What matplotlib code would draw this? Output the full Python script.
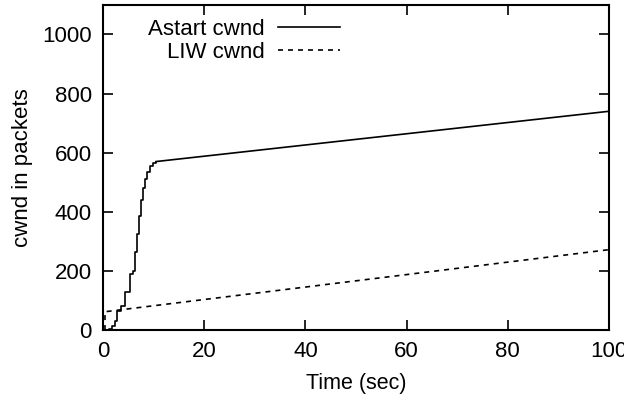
import matplotlib
matplotlib.use("Agg")
import matplotlib.pyplot as plt
from matplotlib import font_manager

names = {f.name for f in font_manager.fontManager.ttflist}
fam = "Liberation Sans Narrow" if "Liberation Sans Narrow" in names else "Liberation Sans"
plt.rcParams['font.family'] = [fam, 'DejaVu Sans']

# Astart cwnd: slow-start ramp (step) then linear growth
astart_ramp_t = [0.5, 1.2, 1.8, 2.3, 2.8, 3.5, 4.3, 5.3, 5.9, 6.3, 6.7, 7.2, 7.6, 8.0, 8.4, 8.8, 9.3, 9.8, 10.5]
astart_ramp_v = [0, 5, 15, 30, 65, 80, 130, 190, 200, 265, 325, 385, 440, 480, 510, 535, 555, 565, 570]
astart_lin_t = [10.5, 100]
astart_lin_v = [570, 740]

# LIW cwnd
liw_t = [0.4, 0.4, 100]
liw_v = [0, 62, 272]

xticks = [0, 20, 40, 60, 80, 100]
yticks = [0, 200, 400, 600, 800, 1000]

fig = plt.figure(figsize=(6.24, 4.04), dpi=100)
ax = fig.add_axes([0.165, 0.183, 0.811, 0.805])

ax.plot(astart_ramp_t, astart_ramp_v, color='black', lw=1.2, drawstyle='steps-post', label='Astart cwnd')
ax.plot(astart_lin_t, astart_lin_v, color='black', lw=1.2)
ax.plot(liw_t, liw_v, color='black', lw=1.2, linestyle=(0, (3, 3)), label='LIW cwnd')

ax.set_xlim(0, 100)
ax.set_ylim(0, 1100)
ax.set_xticks(xticks)
ax.set_yticks(yticks)
ax.tick_params(direction='in', length=7, width=1.2, top=True, right=True, labelsize=16, pad=8)
for s in ax.spines.values():
    s.set_linewidth(1.5)

ax.set_xlabel('Time (sec)', fontsize=15.5, labelpad=8)
ax.set_ylabel('cwnd in packets', fontsize=16, labelpad=7)

leg = ax.legend(loc='upper left', bbox_to_anchor=(0.05, 1.018), frameon=False, fontsize=16,
                markerfirst=False, handlelength=2.8, labelspacing=0.1, handletextpad=0.6)
for t in leg.get_texts():
    t.set_ha('right')
leg._legend_box.align = "right"

fig.savefig('out.png', dpi=100)
